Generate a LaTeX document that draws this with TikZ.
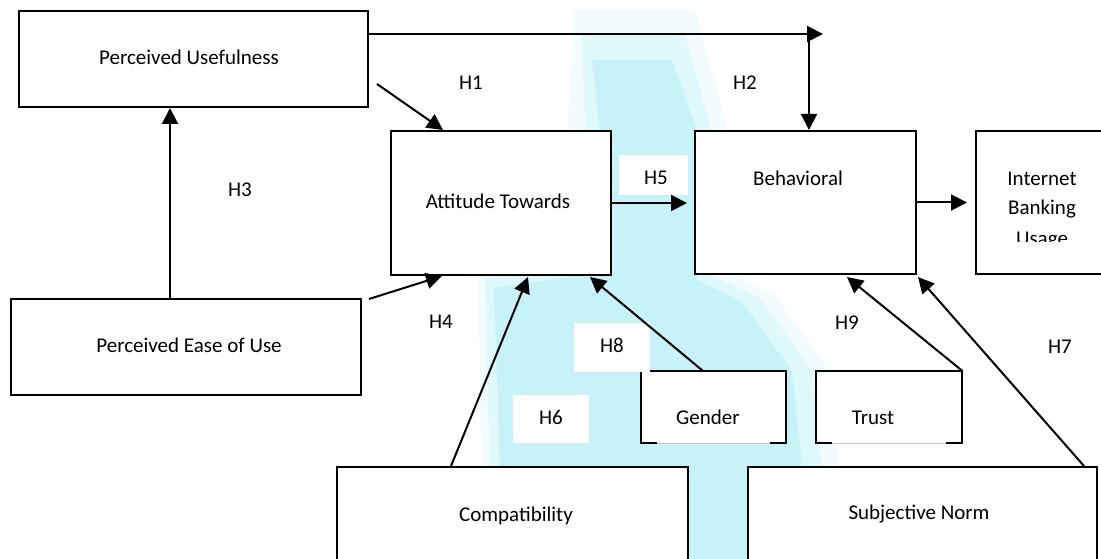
\documentclass[tikz,border=0pt]{standalone}
\usepackage{fontspec}
\setmainfont{Carlito}
\usetikzlibrary{arrows.meta,calc}
\definecolor{wm}{RGB}{198,242,248}
\begin{document}
\begin{tikzpicture}[x=1pt,y=-1pt,
  box/.style={draw=black, line width=2pt, fill=white, rectangle, inner sep=0pt},
  openbox/.style={fill=white, rectangle, inner sep=0pt},
  txt/.style={font=\fontsize{21}{29}\selectfont, inner sep=0pt, text height=13.5pt, text depth=0pt},
  hbg/.style={fill=white, draw=none},
  conn/.style={line width=2pt, line cap=rect},
  arr/.style={line width=2pt, -{Triangle[length=16pt,width=16pt]}}]
\useasboundingbox (0,0) rectangle (1101,559);
\clip (0,0) rectangle (1101,559);
% faint watermark (soft layered fill)
\fill[wm, opacity=0.22] (575,10) -- (695,10) -- (725,120) -- (725,270) -- (775,295) -- (830,371) -- (840,475) -- (775,485) -- (775,559) -- (662,559) -- (662,485) -- (482,485) -- (478,270) -- (555,258) -- (568,120) -- cycle;
\fill[wm, opacity=0.45] (582,35) -- (685,35) -- (710,125) -- (710,275) -- (760,298) -- (812,371) -- (822,470) -- (762,475) -- (762,559) -- (675,559) -- (675,475) -- (490,475) -- (485,278) -- (565,266) -- (585,125) -- cycle;
\fill[wm] (592,60) -- (672,60) -- (697,131) -- (697,280) -- (742,302) -- (792,371) -- (802,467) -- (748,467) -- (748,559) -- (688,559) -- (688,467) -- (500,467) -- (494,288) -- (575,276) -- (600,131) -- cycle;
% boxes
\node[box, minimum width=349pt, minimum height=96pt] (PU) at (193.5,59) {};
\node[box, minimum width=350pt, minimum height=96pt] (PEU) at (186,347) {};
\node[box, minimum width=220pt, minimum height=144pt] (AT) at (501,203) {};
\node[box, minimum width=221pt, minimum height=143pt] (BI) at (805.5,202.5) {};
\node[box, minimum width=144pt, minimum height=143pt] (IBU) at (1048,202.5) {};
\node[box, minimum width=351pt, minimum height=113pt] (C) at (512.5,523.5) {};
\node[box, minimum width=349pt, minimum height=113pt] (SN) at (922.5,523.5) {};
\node[openbox, minimum width=145pt, minimum height=72pt] (G) at (713.5,407) {};
\node[openbox, minimum width=146pt, minimum height=72pt] (T) at (889,407) {};
\foreach \b in {G,T}{
  \draw[gray!45, line width=0.9pt] ([xshift=15pt]\b.south west) -- ([xshift=-15pt]\b.south east);
  \draw[conn] ([xshift=15pt]\b.south west) -- (\b.south west) -- (\b.north west) -- (\b.north east) -- (\b.south east) -- ([xshift=-15pt]\b.south east);
}
% texts
\node[txt] (PUt) at (189,58) {Perceived Usefulness};
\node[txt] (PEUt) at (189,346) {Perceived Ease of Use};
\node[txt] (ATt) at (498,202) {Attitude Towards};
\node[txt] (BIt) at (798,179) {Behavioral};
\node[txt] (IBU1) at (1042,179) {Internet};
\node[txt] (IBU2) at (1042,208) {Banking};
\begin{scope}
\clip (978,131) rectangle (1101,241);
\node[txt] (IBU3) at (1042,239) {Usage};
\end{scope}
\node[txt] (Gt) at (708,418) {Gender};
\node[txt] (Tt) at (873,418) {Trust};
\node[txt] (Ct) at (516,515) {Compatibility};
\node[txt] (SNt) at (919,513) {Subjective Norm};
% label backgrounds
\fill[hbg] (406,300) rectangle (477,340);
\fill[hbg] (619,155) rectangle (688,195);
\fill[hbg] (513,395) rectangle (589,443);
\fill[hbg] (574,323) rectangle (650,372);
% hypothesis labels
\node[txt] (H1) at (471,83) {H1};
\node[txt] (H2) at (745,83) {H2};
\node[txt] (H3) at (240,190) {H3};
\node[txt] (H4) at (441,322) {H4};
\node[txt] (H5) at (656,178) {H5};
\node[txt] (H6) at (551,418) {H6};
\node[txt] (H8) at (612,346) {H8};
\node[txt] (H9) at (847,323) {H9};
\node[txt] (H7) at (1060,347) {H7};
% connectors
\coordinate (topR) at (823,34);
\coordinate (junc) at (809,34);
\draw[arr] (PU.east |- topR) -- (topR);
\draw[arr] (junc) -- (junc |- BI.north);
\draw[arr] ([shift={(8,-24)}]PU.south east) -- ([shift={(53,0)}]AT.north west);
\draw[arr] ([shift={(160,0)}]PEU.north west) -- ([shift={(152,0)}]PU.south west);
\draw[arr] ([shift={(7,1)}]PEU.north east) -- ([shift={(52,0)}]AT.south west);
\draw[arr] (AT.east) -- ($(AT.east -| BI.west)+(-7,0)$);
\draw[arr] (BI.east) -- ($(BI.east -| IBU.west)+(-8,0)$);
\draw[arr] ([shift={(115,0)}]C.north west) -- ([shift={(138,1)}]AT.south west);
\draw[arr] ([shift={(62,0)}]G.north west) -- ([shift={(-22,1)}]AT.south east);
\draw[arr] (T.north east) -- ([shift={(153,2)}]BI.south west);
\draw[arr] ([shift={(-14,0)}]SN.north east) -- ([shift={(1,2)}]BI.south east);
\end{tikzpicture}
\end{document}
